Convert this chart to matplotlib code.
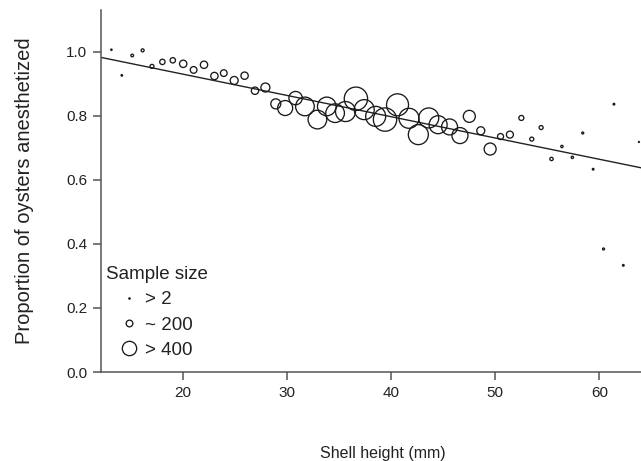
import matplotlib
matplotlib.use("Agg")
import matplotlib.pyplot as plt
from matplotlib.lines import Line2D

plt.rcParams["font.family"] = ["Liberation Sans", "DejaVu Sans"]

# Shell height (mm), proportion anesthetized, sample size
shell_mm = [13.1, 14.1, 15.1, 16.1, 17.0, 18.0, 19.0, 20.0, 21.0, 22.0,
            23.0, 23.9, 24.9, 25.9, 26.9, 27.9, 28.9, 29.8, 30.8, 31.7,
            32.9, 33.8, 34.6, 35.6, 36.6, 37.4, 38.5, 39.4, 40.6, 41.7,
            42.6, 43.6, 44.5, 45.6, 46.6, 47.5, 48.6, 49.5, 50.5, 51.4,
            52.5, 53.5, 54.4, 55.4, 56.4, 57.4, 58.4, 59.4, 60.4, 61.4,
            62.3, 63.8]
prop = [1.006, 0.926, 0.988, 1.004, 0.954, 0.968, 0.973, 0.962, 0.943, 0.959,
        0.924, 0.933, 0.910, 0.925, 0.878, 0.888, 0.837, 0.824, 0.855, 0.829,
        0.788, 0.829, 0.808, 0.813, 0.853, 0.819, 0.798, 0.788, 0.834, 0.792,
        0.741, 0.793, 0.772, 0.765, 0.738, 0.798, 0.753, 0.696, 0.735, 0.741,
        0.793, 0.727, 0.763, 0.665, 0.704, 0.670, 0.746, 0.633, 0.384, 0.836,
        0.333, 0.718]
n_size = [40, 45, 80, 90, 120, 160, 160, 220, 200, 220,
          220, 200, 240, 220, 220, 270, 300, 450, 400, 560,
          560, 560, 560, 600, 700, 600, 600, 700, 660, 600,
          600, 600, 540, 480, 480, 360, 240, 360, 180, 210,
          150, 120, 120, 100, 70, 70, 60, 50, 60, 50,
          50, 30]

# fitted line, end points
fit_x = [12.1, 64.0]
fit_y = [0.982, 0.6375]

legend_n = [40, 200, 430]
legend_lab = ["> 2", "~ 200", "> 400"]

DPI = 100
EDGE = "#1a1a1a"
TXT = "#222222"


def n_to_s(n):
    # radius in px is about n / 60, scatter size is area in pt^2
    d_pt = 2 * (n / 60.0) * 72.0 / DPI
    return d_pt ** 2


fig = plt.figure(figsize=(6.41, 4.61), dpi=DPI)
ax = fig.add_axes([101 / 641, 89 / 461, 540 / 641, 362 / 461])

ax.plot(fit_x, fit_y, color="#222222", lw=1.0, zorder=2)
ax.scatter(shell_mm, prop, s=[n_to_s(v) for v in n_size],
           facecolors="none", edgecolors=EDGE, linewidths=0.95, zorder=3)

ax.set_xlim(12.1, 64.0)
ax.set_ylim(0, 1.13)
ax.set_xticks([20, 30, 40, 50, 60])
ax.set_yticks([0.0, 0.2, 0.4, 0.6, 0.8, 1.0])
ax.set_yticklabels([f"{v:.1f}" for v in [0.0, 0.2, 0.4, 0.6, 0.8, 1.0]])

for side in ["top", "right"]:
    ax.spines[side].set_visible(False)
for side in ["left", "bottom"]:
    ax.spines[side].set_color("#555555")
    ax.spines[side].set_linewidth(1.1)
ax.tick_params(axis="both", direction="out", length=6, width=1.1,
               color="#555555", labelsize=11, labelcolor=TXT, pad=4)

ax.set_xlabel("Shell height (mm)", fontsize=11.5, color=TXT)
ax.xaxis.set_label_coords(0.522, -0.205)
ax.set_ylabel("Proportion of oysters anesthetized", fontsize=14.5,
              color=TXT, labelpad=23)

handles = [Line2D([], [], ls="none", marker="o", markerfacecolor="none",
                  markeredgecolor=EDGE, markeredgewidth=0.95,
                  markersize=2 * (v / 60.0) * 72.0 / DPI)
           for v in legend_n]
leg = ax.legend(handles, legend_lab, title="Sample size", loc="upper left",
                bbox_to_anchor=(0.009, 0.293), frameon=False, fontsize=13.5,
                title_fontsize=13.5, alignment="left", borderpad=0,
                borderaxespad=0, handlelength=2.45, handletextpad=-0.37,
                labelspacing=0.44)
for t in leg.get_texts():
    t.set_color(TXT)
leg.get_title().set_color(TXT)

fig.savefig("out.png", dpi=DPI)
